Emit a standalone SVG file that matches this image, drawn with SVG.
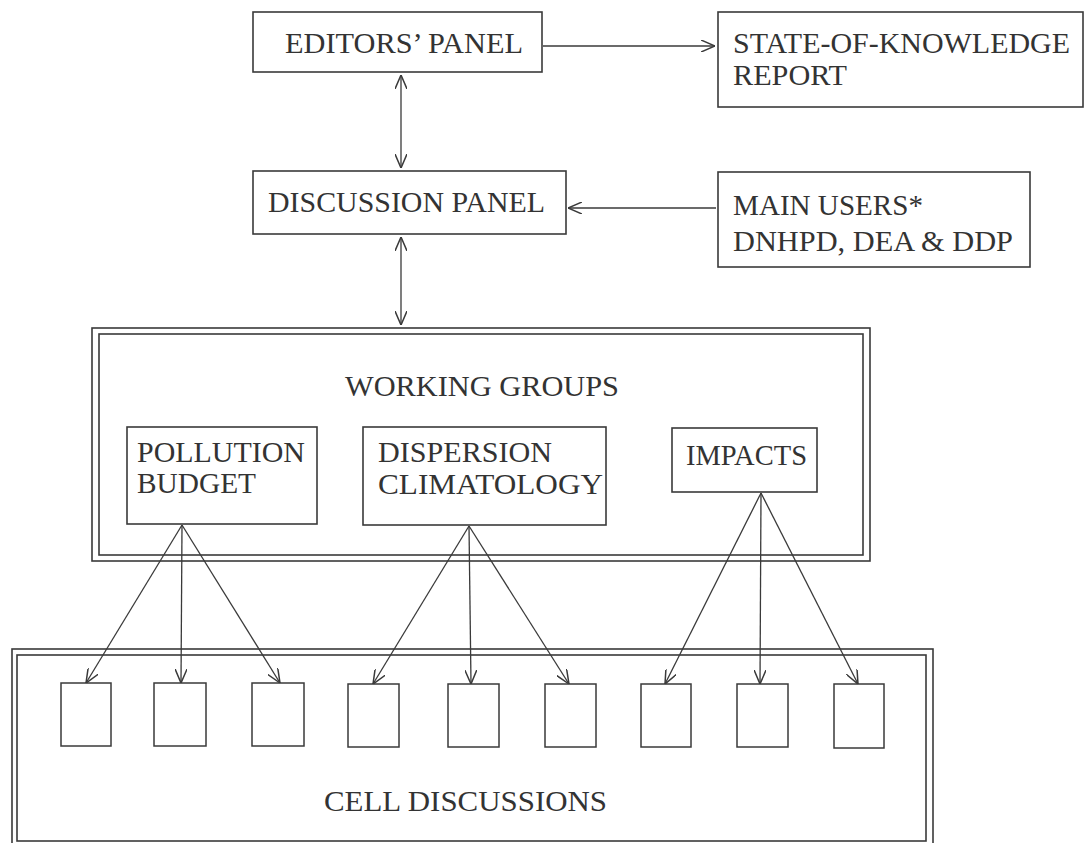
<svg xmlns="http://www.w3.org/2000/svg" width="1087" height="843" viewBox="0 0 1087 843">
  <defs>
    <marker id="ah" viewBox="0 0 14 12" refX="14" refY="6" markerWidth="14" markerHeight="12" markerUnits="userSpaceOnUse" orient="auto-start-reverse">
      <path d="M0,0 L14,6 L0,12" fill="none" stroke="#3a3a3a" stroke-width="1.5"/>
    </marker>
    <style>
      .box { fill: none; stroke: #3a3a3a; stroke-width: 1.6; }
      .cell { fill: none; stroke: #3a3a3a; stroke-width: 1.5; }
      .lbl { font-family: "Liberation Serif", "Times New Roman", serif; font-size: 29px; fill: #333; }
      .con { fill: none; stroke: #3a3a3a; stroke-width: 1.3; }
    </style>
  </defs>
  <rect width="1087" height="843" fill="#ffffff"/>

  <g id="editors-panel">
    <rect class="box" x="253" y="12" width="289" height="60"/>
    <text class="lbl" x="285" y="53" textLength="238" lengthAdjust="spacingAndGlyphs">EDITORS’ PANEL</text>
  </g>

  <g id="state-of-knowledge-report">
    <rect class="box" x="718" y="12" width="365" height="95"/>
    <text class="lbl" x="733" y="53" textLength="337" lengthAdjust="spacingAndGlyphs">STATE-OF-KNOWLEDGE</text>
    <text class="lbl" x="733" y="85" textLength="114" lengthAdjust="spacingAndGlyphs">REPORT</text>
  </g>

  <g id="discussion-panel">
    <rect class="box" x="253" y="171" width="313" height="63"/>
    <text class="lbl" x="268" y="212" textLength="277" lengthAdjust="spacingAndGlyphs">DISCUSSION PANEL</text>
  </g>

  <g id="main-users">
    <rect class="box" x="718" y="172" width="312" height="95"/>
    <text class="lbl" x="733" y="215" textLength="190" lengthAdjust="spacingAndGlyphs">MAIN USERS*</text>
    <text class="lbl" x="733" y="251" textLength="280" lengthAdjust="spacingAndGlyphs">DNHPD, DEA &amp; DDP</text>
  </g>

  <g id="working-groups">
    <rect class="box" x="92" y="328" width="778" height="233"/>
    <rect class="box" x="99" y="334" width="764" height="221"/>
    <text class="lbl" x="345" y="396" font-size="27" textLength="274" lengthAdjust="spacingAndGlyphs">WORKING GROUPS</text>
  </g>

  <g id="pollution-budget">
    <rect class="box" x="127" y="427" width="190" height="97"/>
    <text class="lbl" x="137" y="462" textLength="168" lengthAdjust="spacingAndGlyphs">POLLUTION</text>
    <text class="lbl" x="137" y="493" textLength="119" lengthAdjust="spacingAndGlyphs">BUDGET</text>
  </g>

  <g id="dispersion-climatology">
    <rect class="box" x="363" y="427" width="243" height="98"/>
    <text class="lbl" x="378" y="462" textLength="174" lengthAdjust="spacingAndGlyphs">DISPERSION</text>
    <text class="lbl" x="378" y="494" textLength="225" lengthAdjust="spacingAndGlyphs">CLIMATOLOGY</text>
  </g>

  <g id="impacts">
    <rect class="box" x="672" y="428" width="145" height="64"/>
    <text class="lbl" x="686" y="465" textLength="121" lengthAdjust="spacingAndGlyphs">IMPACTS</text>
  </g>

  <g id="cell-discussions">
    <rect class="box" x="12" y="649" width="921" height="200"/>
    <rect class="box" x="17" y="655" width="909" height="186"/>
    <text class="lbl" x="324" y="811" font-size="28" textLength="283" lengthAdjust="spacingAndGlyphs">CELL DISCUSSIONS</text>
  </g>

  <g id="cell-1"><rect class="cell" x="61" y="683" width="50" height="63"/></g>
  <g id="cell-2"><rect class="cell" x="154" y="683" width="52" height="63"/></g>
  <g id="cell-3"><rect class="cell" x="252" y="683" width="52" height="63"/></g>
  <g id="cell-4"><rect class="cell" x="348" y="684" width="51" height="63"/></g>
  <g id="cell-5"><rect class="cell" x="448" y="684" width="51" height="63"/></g>
  <g id="cell-6"><rect class="cell" x="545" y="684" width="51" height="63"/></g>
  <g id="cell-7"><rect class="cell" x="641" y="684" width="50" height="63"/></g>
  <g id="cell-8"><rect class="cell" x="737" y="684" width="51" height="63"/></g>
  <g id="cell-9"><rect class="cell" x="834" y="684" width="50" height="64"/></g>

  <g id="connectors">
    <line class="con" x1="543" y1="46" x2="715" y2="46" marker-end="url(#ah)"/>
    <line class="con" x1="401" y1="75" x2="401" y2="168" marker-start="url(#ah)" marker-end="url(#ah)"/>
    <line class="con" x1="716" y1="208" x2="568" y2="208" marker-end="url(#ah)"/>
    <line class="con" x1="401" y1="237" x2="401" y2="325" marker-start="url(#ah)" marker-end="url(#ah)"/>

    <line class="con" x1="182" y1="525" x2="86" y2="683" marker-end="url(#ah)"/>
    <line class="con" x1="182" y1="525" x2="181" y2="683" marker-end="url(#ah)"/>
    <line class="con" x1="182" y1="525" x2="280" y2="683" marker-end="url(#ah)"/>

    <line class="con" x1="469" y1="526" x2="373" y2="684" marker-end="url(#ah)"/>
    <line class="con" x1="469" y1="526" x2="471" y2="684" marker-end="url(#ah)"/>
    <line class="con" x1="469" y1="526" x2="569" y2="684" marker-end="url(#ah)"/>

    <line class="con" x1="761" y1="493" x2="665" y2="684" marker-end="url(#ah)"/>
    <line class="con" x1="761" y1="493" x2="760" y2="684" marker-end="url(#ah)"/>
    <line class="con" x1="761" y1="493" x2="858" y2="684" marker-end="url(#ah)"/>
  </g>
</svg>
